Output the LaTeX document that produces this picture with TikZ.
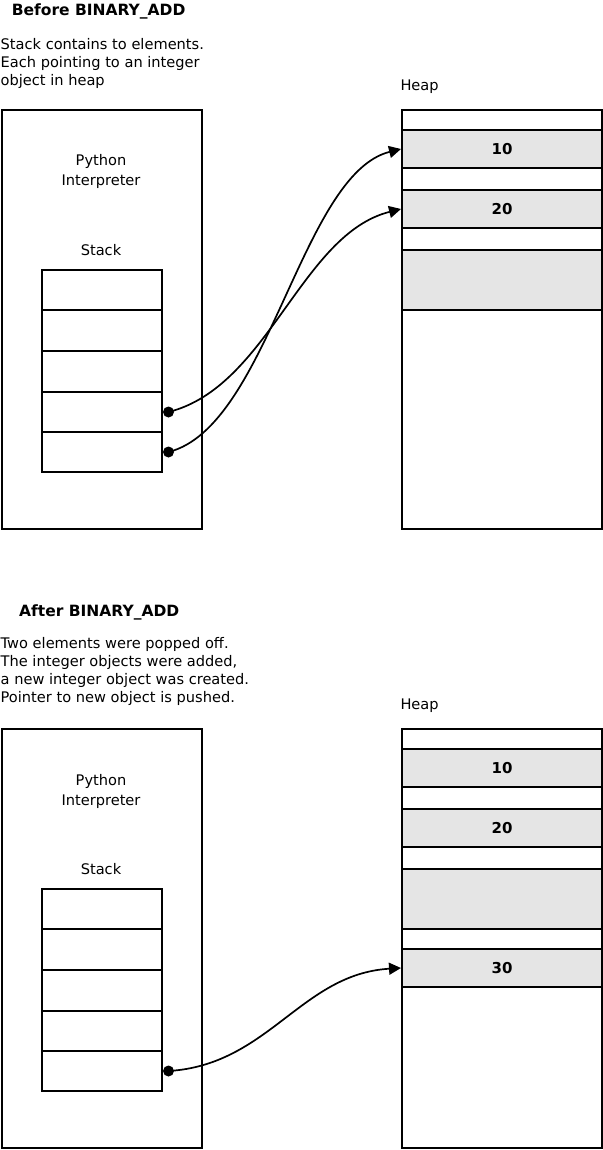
\documentclass[tikz,border=0pt]{standalone}
\usepackage{fontspec}
\setmainfont{DejaVu Sans}
\usetikzlibrary{arrows.meta}
\definecolor{cellgray}{HTML}{E5E5E5}
\begin{document}
\begin{tikzpicture}[x=1pt,y=-1pt,
  frame/.style={draw, line width=2pt, minimum width=200pt, inner sep=0pt, anchor=north west},
  stackcell/.style={draw, line width=2pt, minimum width=120pt, inner sep=0pt, anchor=north west},
  heapcell/.style={draw, line width=2pt, fill=cellgray, minimum width=200pt, inner sep=0pt, anchor=north west, font=\fontsize{15}{18}\bfseries},
  title/.style={anchor=base west, inner sep=0pt, font=\fontsize{15.5}{18}\bfseries},
  desc/.style={anchor=base west, inner sep=0pt, align=left, font=\fontsize{14.6}{18}\selectfont},
  lbl/.style={anchor=base, inner sep=0pt, align=center, font=\fontsize{14.6}{20}\selectfont},
  dot/.style={circle, fill=black, minimum size=11pt, inner sep=0pt},
  conn/.style={line width=1.7pt, -{Triangle[length=12pt,width=12pt]}}
]
\useasboundingbox (0,0) rectangle (602,1150);

% ===== Before =====
\node[title] (titleA) at (11.6,16) {Before BINARY\_ADD};
\node[desc] (descA) at (0.5,85.5) {Stack contains to elements.\\Each pointing to an integer\\object in heap};
\node[desc] (heapLblA) at (400.3,90.7) {Heap};

\node[frame, minimum height=419pt] (interpA) at (1,109) {};
\node[lbl] (pyA) at (101,186) {Python\\Interpreter};
\node[lbl] (stackLblA) at (101,255) {Stack};
\node[stackcell, minimum height=40pt] (sA0) at (41,269) {};
\node[stackcell, minimum height=41pt] (sA1) at (41,309) {};
\node[stackcell, minimum height=41pt] (sA2) at (41,350) {};
\node[stackcell, minimum height=40pt] (sA3) at (41,391) {};
\node[stackcell, minimum height=40pt] (sA4) at (41,431) {};

\node[frame, minimum height=419pt] (heapA) at (401,109) {};
\node[heapcell, minimum height=38pt] (hA10) at (401,129) {10};
\node[heapcell, minimum height=38pt] (hA20) at (401,189) {20};
\node[heapcell, minimum height=60pt] (hAblank) at (401,249) {};

\node[dot] (dA3) at ([xshift=5.5pt]sA3.east) {};
\node[dot] (dA4) at ([xshift=5.5pt]sA4.east) {};
\draw[conn] (dA3.center) .. controls +(100,-25) and +(-100,25) .. (hA20.west);
\draw[conn] (dA4.center) .. controls +(100,-25) and +(-100,25) .. (hA10.west);

% ===== After =====
\node[title] (titleB) at (19,616) {After BINARY\_ADD};
\node[desc] (descB) at (0.5,702) {Two elements were popped off.\\The integer objects were added,\\a new integer object was created.\\Pointer to new object is pushed.};
\node[desc] (heapLblB) at (400.3,709.7) {Heap};

\node[frame, minimum height=419pt] (interpB) at (1,728) {};
\node[lbl] (pyB) at (101,805) {Python\\Interpreter};
\node[lbl] (stackLblB) at (101,874) {Stack};
\node[stackcell, minimum height=40pt] (sB0) at (41,888) {};
\node[stackcell, minimum height=41pt] (sB1) at (41,928) {};
\node[stackcell, minimum height=41pt] (sB2) at (41,969) {};
\node[stackcell, minimum height=40pt] (sB3) at (41,1010) {};
\node[stackcell, minimum height=40pt] (sB4) at (41,1050) {};

\node[frame, minimum height=419pt] (heapB) at (401,728) {};
\node[heapcell, minimum height=38pt] (hB10) at (401,748) {10};
\node[heapcell, minimum height=38pt] (hB20) at (401,808) {20};
\node[heapcell, minimum height=60pt] (hBblank) at (401,868) {};
\node[heapcell, minimum height=38pt] (hB30) at (401,948) {30};

\node[dot] (dB4) at ([xshift=5.5pt]sB4.east) {};
\draw[conn] (dB4.center) .. controls +(100,-6) and +(-100,6) .. (hB30.west);
\end{tikzpicture}
\end{document}
